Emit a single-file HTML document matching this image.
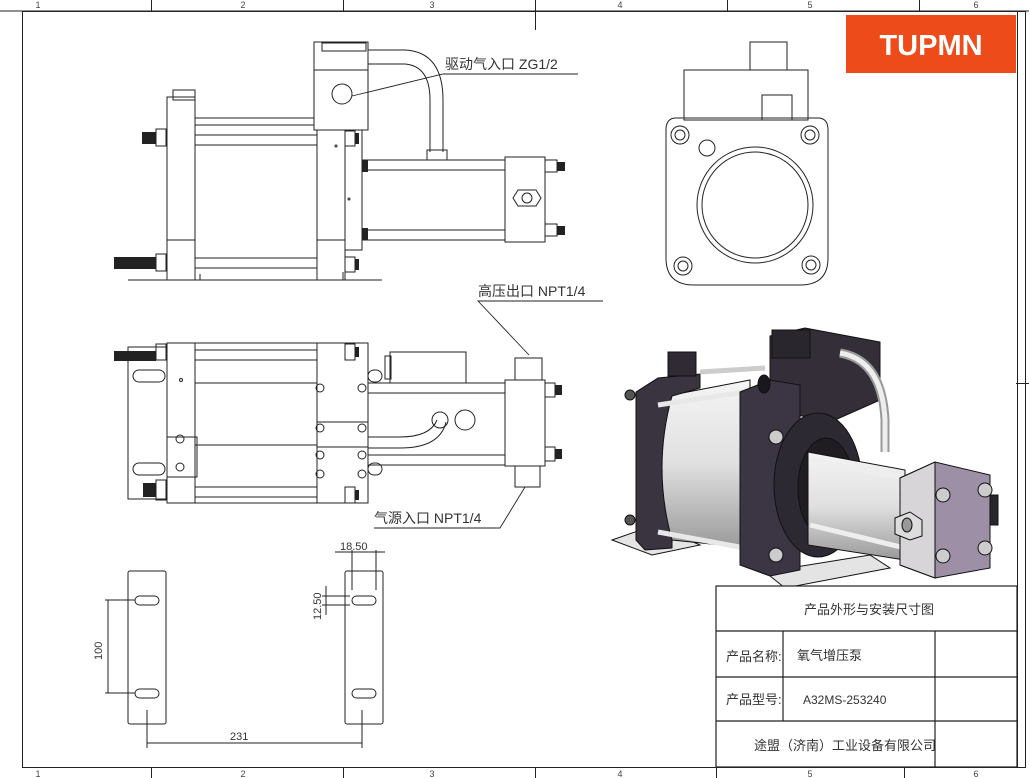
<!DOCTYPE html>
<html><head><meta charset="utf-8"><style>
body{margin:0;background:#fff;}
svg{display:block;}
text{font-family:"Liberation Sans","Noto Sans CJK SC",sans-serif;}
</style></head><body>
<svg width="1029" height="778" viewBox="0 0 1029 778" xmlns="http://www.w3.org/2000/svg">
<defs>
<linearGradient id="cyl" x1="0" y1="0" x2="0" y2="1">
<stop offset="0" stop-color="#f4f4f4"/><stop offset="0.5" stop-color="#e0e0e0"/><stop offset="1" stop-color="#9a9a9a"/></linearGradient>
<linearGradient id="cyl2" x1="0" y1="0" x2="1" y2="0">
<stop offset="0" stop-color="#8a8a8a"/><stop offset="0.5" stop-color="#eeeeee"/><stop offset="1" stop-color="#cfcfcf"/></linearGradient>
</defs>
<g fill="none" stroke="#222" stroke-width="1">
<rect x="22.5" y="11.5" width="1003" height="756"/>
<line x1="0" y1="11" x2="1029" y2="11"/>
<line x1="151.5" y1="0" x2="151.5" y2="11"/><line x1="343.5" y1="0" x2="343.5" y2="11"/>
<line x1="535.5" y1="0" x2="535.5" y2="30"/><line x1="727.5" y1="0" x2="727.5" y2="11"/>
<line x1="919.5" y1="0" x2="919.5" y2="11"/>
<line x1="151.5" y1="767" x2="151.5" y2="778"/><line x1="343.5" y1="767" x2="343.5" y2="778"/>
<line x1="535.5" y1="767" x2="535.5" y2="778"/><line x1="716.5" y1="767" x2="716.5" y2="778"/>
<line x1="904.5" y1="767" x2="904.5" y2="778"/>
<line x1="1016" y1="383.5" x2="1029" y2="383.5"/>
<line x1="1017.5" y1="11" x2="1017.5" y2="767"/>
</g>
<g font-size="9" fill="#444" text-anchor="middle">
<text x="38" y="8">1</text><text x="243" y="8">2</text><text x="432" y="8">3</text><text x="620" y="8">4</text><text x="810" y="8">5</text><text x="976" y="8">6</text>
<text x="38" y="777">1</text><text x="243" y="777">2</text><text x="432" y="777">3</text><text x="620" y="777">4</text><text x="810" y="777">5</text><text x="976" y="777">6</text>
</g>
<rect x="846" y="15" width="170" height="58" fill="#ee4b1a"/>
<text x="931" y="55" font-size="29" font-weight="bold" fill="#fff" text-anchor="middle">TUPMN</text>

<!-- SIDE VIEW -->
<g fill="none" stroke="#222" stroke-width="1">
<rect x="167" y="97" width="28" height="183"/>
<rect x="173" y="90" width="22" height="10"/>
<rect x="195" y="118" width="122" height="162"/>
<line x1="195" y1="125" x2="317" y2="125"/><line x1="195" y1="135" x2="317" y2="135"/>
<line x1="195" y1="145" x2="317" y2="145"/><line x1="195" y1="258" x2="317" y2="258"/>
<line x1="195" y1="268" x2="317" y2="268"/>
<line x1="167" y1="240" x2="195" y2="240"/><line x1="317" y1="240" x2="345" y2="240"/>
<rect x="317" y="100" width="28" height="180"/>
<rect x="314" y="42" width="54" height="88" fill="#fff"/>
<rect x="322" y="43" width="44" height="8"/>
<line x1="314" y1="70" x2="368" y2="70"/>
<circle cx="342" cy="94" r="10"/>
<path d="M368 50 H405 Q443 52 443 100 V152 M368 64 H405 Q430 66 430 100 V152"/>
<rect x="427" y="150" width="20" height="10"/>
<rect x="345" y="130" width="17" height="120"/>
<circle cx="349" cy="199" r="1"/><circle cx="336" cy="146" r="1"/>
<rect x="362" y="160" width="143" height="80"/>
<line x1="362" y1="170" x2="505" y2="170"/><line x1="362" y1="230" x2="505" y2="230"/>
<rect x="505" y="157" width="40" height="85"/>
<polygon points="518,190 536,190 541,198 536,206 518,206 513,198"/>
<circle cx="527" cy="198" r="5"/>
<path d="M128 280 H200 M200 280 V274 M343 280 H382 M343 280 V272"/>
</g>
<g fill="#222">
<rect x="362" y="160" width="6" height="12"/><rect x="362" y="228" width="6" height="12"/>
<rect x="545" y="160" width="12" height="12" fill="none" stroke="#222"/><rect x="557" y="162" width="8" height="9"/>
<rect x="545" y="224" width="12" height="12" fill="none" stroke="#222"/><rect x="557" y="226" width="8" height="9"/>
<rect x="142" y="132" width="14" height="12"/><rect x="156" y="129" width="10" height="17" fill="none" stroke="#222"/>
<rect x="114" y="257" width="42" height="12"/><rect x="156" y="254" width="10" height="17" fill="none" stroke="#222"/>
<rect x="345" y="131" width="10" height="15" fill="none" stroke="#222"/><rect x="355" y="133" width="4" height="11"/>
<rect x="345" y="257" width="10" height="15" fill="none" stroke="#222"/><rect x="355" y="259" width="4" height="11"/>
</g>
<!-- END VIEW -->
<g fill="none" stroke="#222" stroke-width="1">
<rect x="750" y="42" width="37" height="28"/>
<rect x="684" y="70" width="124" height="50"/>
<rect x="762" y="95" width="30" height="25"/>
<path d="M676 118 H818 Q828 118 828 130 V258 Q828 285 800 285 H694 Q666 285 666 258 V130 Q666 118 676 118Z"/>
<circle cx="755" cy="205" r="58"/><circle cx="755" cy="205" r="53"/>
<circle cx="680" cy="135" r="9"/><circle cx="680" cy="135" r="5"/>
<circle cx="810" cy="135" r="9"/><circle cx="810" cy="135" r="5"/>
<circle cx="683" cy="266" r="9"/><circle cx="683" cy="266" r="5"/>
<circle cx="811" cy="265" r="9"/><circle cx="811" cy="265" r="5"/>
<circle cx="707" cy="148" r="8"/>
</g>
<!-- TOP VIEW -->
<g fill="none" stroke="#222" stroke-width="1">
<rect x="128" y="347" width="54" height="152"/>
<rect x="167" y="343" width="201" height="160" fill="#fff"/>
<line x1="195" y1="343" x2="195" y2="503"/><line x1="317" y1="343" x2="317" y2="503"/>
<line x1="195" y1="350" x2="317" y2="350"/><line x1="195" y1="360" x2="317" y2="360"/>
<line x1="195" y1="383" x2="317" y2="383"/><line x1="195" y1="445" x2="317" y2="445"/>
<line x1="195" y1="487" x2="317" y2="487"/><line x1="195" y1="497" x2="317" y2="497"/>
<rect x="167" y="437" width="30" height="40"/>
<rect x="317" y="422" width="51" height="25"/>
<rect x="133" y="370" width="32" height="12" rx="6"/><rect x="133" y="463" width="32" height="12" rx="6"/>
<rect x="368" y="370" width="14" height="12" rx="6"/><rect x="368" y="463" width="14" height="12" rx="6"/>
<rect x="390" y="352" width="76" height="31"/><rect x="385" y="356" width="6" height="23"/>
<rect x="368" y="383" width="137" height="82"/>
<line x1="368" y1="393" x2="505" y2="393"/><line x1="368" y1="455" x2="505" y2="455"/>
<path d="M368 437 H400 Q430 437 437 420 M368 448 H400 Q440 448 446 422"/>
<circle cx="440" cy="420" r="8"/><circle cx="465" cy="420" r="10"/>
<rect x="505" y="380" width="40" height="86"/>
<rect x="515" y="358" width="27" height="22"/><rect x="515" y="466" width="25" height="21"/>
<circle cx="181" cy="380" r="1.5"/>
<circle cx="320" cy="388" r="4"/><circle cx="362" cy="388" r="4"/>
<circle cx="320" cy="428" r="4"/><circle cx="362" cy="428" r="4"/>
<circle cx="320" cy="455" r="4"/><circle cx="362" cy="455" r="4"/>
<circle cx="320" cy="474" r="4"/><circle cx="362" cy="474" r="4"/>
<circle cx="180" cy="439" r="4"/><circle cx="180" cy="467" r="4"/>
</g>
<g fill="#222">
<rect x="114" y="351" width="42" height="10"/><rect x="156" y="344" width="10" height="16" fill="none" stroke="#222"/>
<rect x="143" y="483" width="13" height="14"/><rect x="156" y="480" width="10" height="20" fill="none" stroke="#222"/>
<rect x="345" y="344" width="10" height="16" fill="none" stroke="#222"/><rect x="355" y="347" width="4" height="10"/>
<rect x="345" y="487" width="10" height="16" fill="none" stroke="#222"/><rect x="355" y="490" width="4" height="10"/>
<rect x="545" y="383" width="10" height="14" fill="none" stroke="#222"/><rect x="555" y="385" width="7" height="10"/>
<rect x="545" y="447" width="10" height="14" fill="none" stroke="#222"/><rect x="555" y="449" width="7" height="10"/>
</g>
<g font-size="14" fill="#333">
<text x="445" y="69">驱动气入口 ZG1/2</text>
<text x="478" y="296">高压出口 NPT1/4</text>
<text x="374" y="523">气源入口 NPT1/4</text>
</g>
<g fill="none" stroke="#222" stroke-width="0.9">
<path d="M578 74 H443 L352 96"/>
<path d="M603 301 H478 L529 355"/>
<path d="M374 528 H500 L525 487"/>
</g>
<!-- brackets -->
<g fill="none" stroke="#222" stroke-width="1">
<rect x="128" y="571" width="38" height="153" rx="2"/>
<rect x="345" y="571" width="38" height="153" rx="2"/>
<rect x="135" y="596" width="24" height="9" rx="4.5"/><rect x="135" y="689" width="24" height="9" rx="4.5"/>
<rect x="352" y="596" width="24" height="9" rx="4.5"/><rect x="352" y="689" width="24" height="9" rx="4.5"/>
<path d="M105 600 H135 M105 693 H135 M108 600 V693"/>
<path d="M147 710 V748 M362 710 V748 M147 743 H362"/>
<path d="M352 550 V590 M376 550 V590 M335 552 H385"/>
<path d="M322 596 H350 M322 605 H350 M326 586 V615"/>
</g>
<g font-size="11" fill="#333">
<text x="230" y="740">231</text>
<text x="340" y="550">18.50</text>
<text transform="translate(102,660) rotate(-90)">100</text>
<text transform="translate(321,620) rotate(-90)">12.50</text>
</g>
<!-- 3D VIEW -->
<g stroke="#111" stroke-width="1">
<polygon points="612,540 655,525 700,545 652,555" fill="#e4e4e4"/>
<polygon points="765,572 870,555 890,568 785,588" fill="#e4e4e4"/>
<!-- big cylinder -->
<path d="M672 395 L750 380 L750 548 L672 540 Q650 468 672 395Z" fill="url(#cyl)"/>
<!-- left plate -->
<path d="M636 392 L658 378 L700 374 L700 388 L672 396 Q652 468 672 540 L672 548 L645 550 L636 540 Z" fill="#3a3440"/>
<rect x="668" y="352" width="28" height="24" fill="#2f2a33"/>
<path d="M658 405 L745 392" stroke="#e8e8e8" stroke-width="5"/>
<path d="M658 532 L745 548" stroke="#e8e8e8" stroke-width="5"/>
<path d="M700 372 L765 368" stroke="#ccc" stroke-width="5"/>
<!-- top block -->
<path d="M770 336 L805 328 L880 342 L880 400 L835 420 L770 412 Z" fill="#332e38"/>
<rect x="772" y="330" width="38" height="28" fill="#2a262e"/>
<!-- middle plate -->
<path d="M740 392 L770 380 L800 385 L800 570 L770 576 L740 565 Z" fill="#3b3544"/>
<ellipse cx="764" cy="384" rx="6" ry="9" fill="#1a171d"/>
<!-- flange -->
<ellipse cx="818" cy="485" rx="44" ry="72" fill="#2d2932"/>
<ellipse cx="826" cy="488" rx="28" ry="50" fill="#1f1c22"/>
<!-- small cylinder -->
<path d="M808 452 L905 470 L905 560 L808 545 Z" fill="url(#cyl)"/>
<path d="M810 460 L905 478" stroke="#eee" stroke-width="5"/>
<path d="M810 525 L905 548" stroke="#eee" stroke-width="5"/>
<!-- pipe -->
<path d="M840 353 Q882 360 885 420 L885 452" fill="none" stroke="#999" stroke-width="9"/>
<path d="M840 353 Q882 360 885 420 L885 452" fill="none" stroke="#eee" stroke-width="5"/>
<!-- end block -->
<polygon points="900,478 935,462 990,475 990,568 935,578 900,565" fill="#9d8fa6"/>
<polygon points="900,478 935,462 935,578 900,565" fill="#d8d5d8"/>
<polygon points="895,518 910,512 922,520 922,536 910,540 895,534" fill="#ddd"/>
<ellipse cx="907" cy="525" rx="5" ry="7" fill="#999"/>
<circle cx="943" cy="495" r="7" fill="#ccc"/><circle cx="985" cy="490" r="7" fill="#ccc"/>
<circle cx="943" cy="556" r="7" fill="#ccc"/><circle cx="985" cy="548" r="7" fill="#ccc"/>
<rect x="990" y="495" width="8" height="30" fill="#2a262e"/>
<circle cx="776" cy="437" r="7" fill="#ccc"/><circle cx="776" cy="555" r="7" fill="#ccc"/>
<circle cx="630" cy="395" r="5" fill="#555"/><circle cx="630" cy="520" r="5" fill="#555"/>
</g>
<!-- title block -->
<g fill="none" stroke="#222" stroke-width="1.2">
<rect x="716" y="586" width="301" height="181" fill="#fff"/>
<line x1="716" y1="631" x2="1017" y2="631"/><line x1="716" y1="677" x2="1017" y2="677"/>
<line x1="716" y1="721" x2="1017" y2="721"/>
<line x1="783" y1="631" x2="783" y2="721"/><line x1="935" y1="631" x2="935" y2="767"/>
</g>
<g font-size="13" fill="#333">
<text x="804" y="614">产品外形与安装尺寸图</text>
<text x="726" y="661">产品名称:</text>
<text x="797" y="660">氧气增压泵</text>
<text x="726" y="704">产品型号:</text>
<text x="803" y="704" font-size="12">A32MS-253240</text>
<text x="754" y="750">途盟（济南）工业设备有限公司</text>
</g>
</svg>
</body></html>
